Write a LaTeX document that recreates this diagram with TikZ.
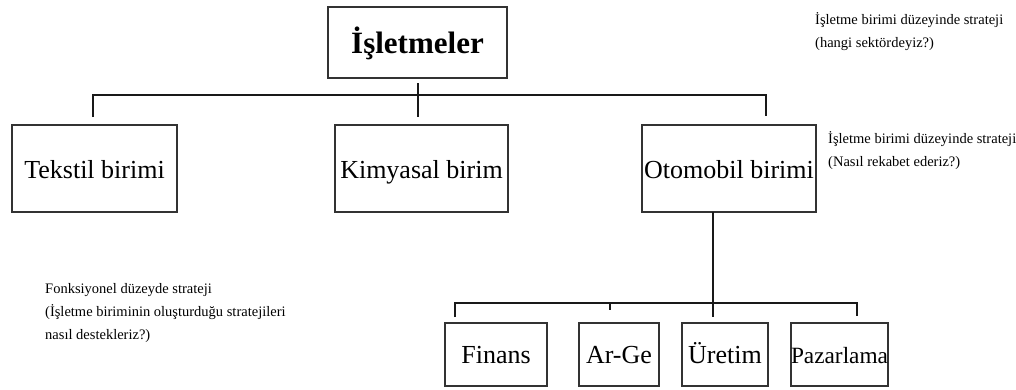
\documentclass[tikz,border=0pt]{standalone}
\usepackage{fontspec}
\setmainfont{Liberation Serif}
\begin{document}
\begin{tikzpicture}[x=1pt,y=-1pt,
  box/.style={draw=black!80,line width=1.2pt,inner sep=0pt,minimum height=87pt,text height=20pt,text depth=1pt},
  lowbox/.style={draw=black!80,line width=1.2pt,inner sep=0pt,minimum height=63pt,text height=18pt,text depth=1pt},
  conn/.style={line width=2.4pt,black!90},
  boxtext/.style={font=\fontsize{26}{30}\selectfont},
  note/.style={font=\fontsize{14.5}{23}\selectfont,align=left,anchor=west,inner sep=0pt}]
\useasboundingbox (0,0) rectangle (1016,389);
% boxes
\node[draw=black!80,line width=1.4pt,minimum width=179pt,minimum height=71pt,inner sep=0pt,
  text height=24pt,text depth=2pt,
  font=\fontsize{31}{36}\selectfont\bfseries] (top) at (417.5,42.5) {İşletmeler};
\node[box,boxtext,minimum width=165pt] (tek) at (94.5,168.5) {Tekstil birimi};
\node[box,boxtext,minimum width=173pt] (kim) at (421.5,168.5) {Kimyasal birim};
\node[box,boxtext,minimum width=174pt] (oto) at (729,168.5) {Otomobil birimi};
\node[lowbox,boxtext,minimum width=102pt] (fin) at (496,354.5) {Finans};
\node[lowbox,boxtext,minimum width=80pt] (arge) at (619,354.5) {Ar-Ge};
\node[lowbox,boxtext,minimum width=86pt] (ure) at (725,354.5) {Üretim};
\node[lowbox,font=\fontsize{23.3}{28}\selectfont,minimum width=95pt] (paz) at (839.5,354.5) {Pazarlama};
% notes
\node[note] (n1) at (815,31.5) {İşletme birimi düzeyinde strateji\\(hangi sektördeyiz?)};
\node[note] (n2) at (828,151) {İşletme birimi düzeyinde strateji\\(Nasıl rekabet ederiz?)};
\node[note] (n3) at (45,313.5) {Fonksiyonel düzeyde strateji\\(İşletme biriminin oluşturduğu stratejileri\\nasıl destekleriz?)};
% connector coordinates
\coordinate (topS) at (418,83);
\coordinate (topE) at (418,117);
\coordinate (barL) at (93,95);
\coordinate (barR) at (766,95);
\coordinate (barLd) at (93,117);
\coordinate (barRd) at (766,116);
\coordinate (otoS) at (713,212);
\coordinate (otoE) at (713,317);
\coordinate (bar2L) at (455,303);
\coordinate (bar2R) at (857,303);
\coordinate (bar2Ld) at (455,317);
\coordinate (bar2Rd) at (857,316);
\coordinate (argeT) at (610,303);
\coordinate (argeD) at (610,310);
% connectors
\draw[conn] (topS) -- (topE);
\draw[conn] (barLd) -- (barL) -- (barR) -- (barRd);
\draw[conn] (otoS) -- (otoE);
\draw[conn] (bar2Ld) -- (bar2L) -- (bar2R) -- (bar2Rd);
\draw[conn] (argeT) -- (argeD);
\end{tikzpicture}
\end{document}
